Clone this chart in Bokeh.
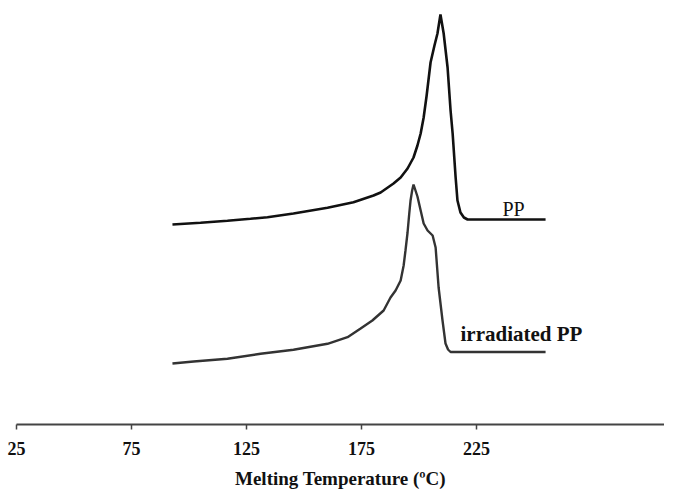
from bokeh.plotting import figure
from bokeh.models import FixedTicker, Range1d
from bokeh.core.properties import value
from bokeh.embed import file_html
from bokeh.resources import INLINE

# ---- data ----
tick_values = [25, 75, 125, 175, 225]

pp_temp = [92.8, 105.0, 116.7, 126.7, 134.1, 145.4, 160.2, 171.5, 180.2, 183.3,
           188.9, 192.0, 195.0, 197.6, 199.3, 200.7, 202.0, 203.3, 205.0, 206.7,
           208.0, 209.3, 210.7, 212.4, 213.7, 214.6, 215.9, 216.7, 218.0, 219.5,
           221.1, 255.0]
pp_heat = [200, 201.7, 203.7, 205.7, 207.3, 211, 216.7, 222.3, 229, 232,
           241, 247, 256, 267, 279, 291, 307, 329, 362, 379,
           391, 410, 391, 357, 314, 291, 247, 224, 212, 207,
           205, 205]

irr_temp = [92.8, 102.0, 116.7, 131.1, 145.4, 160.2, 168.9, 174.6, 179.7, 184.6,
            187.6, 189.8, 192.0, 193.3, 194.1, 195.0, 195.7, 196.3, 197.0, 197.6,
            199.3, 200.7, 202.0, 203.7, 205.9, 207.2, 208.5, 210.2, 211.5, 212.6,
            213.7, 218.0, 255.0]
irr_heat = [61, 63, 65.7, 70.7, 74.7, 80.7, 87.3, 96, 104, 114,
            127, 134, 144, 159, 174, 192, 210, 224, 234, 240,
            228, 214, 201, 194, 189, 177, 137, 104, 81, 75,
            72.5, 72.5, 72.5]

labels = ["PP", "irradiated PP"]
label_x = [241.1, 244.5]
label_y = [216, 91]

serif = "Liberation Serif"

p = figure(width=664, height=492, output_backend="svg", toolbar_location=None,
           x_range=Range1d(25, 306.7), y_range=Range1d(0, 412),
           y_axis_location=None,
           min_border_left=16, min_border_right=0, min_border_top=12,
           min_border_bottom=68)
p.outline_line_color = None
p.xgrid.visible = False
p.ygrid.visible = False
p.background_fill_color = "white"

p.line(pp_temp, pp_heat, line_color="#111111", line_width=2.6)
p.line(irr_temp, irr_heat, line_color="#333333", line_width=2.4)

p.text(x=[label_x[0]], y=[label_y[0]], text=[labels[0]],
       text_font=value(serif), text_font_size="20px", text_color="#111111",
       text_align="center", text_baseline="alphabetic")
p.text(x=[label_x[1]], y=[label_y[1]], text=[labels[1]],
       text_font=value(serif), text_font_size="21px", text_font_style="bold",
       text_color="#111111", text_align="center", text_baseline="alphabetic")

ax = p.xaxis[0]
ax.ticker = FixedTicker(ticks=tick_values)
ax.axis_label = "Melting Temperature (ºC)"
ax.axis_label_text_font = serif
ax.axis_label_text_font_size = "19px"
ax.axis_label_text_font_style = "bold"
ax.axis_label_text_color = "#111111"
ax.axis_label_standoff = 10
ax.major_label_text_font = serif
ax.major_label_text_font_size = "18px"
ax.major_label_text_font_style = "bold"
ax.major_label_text_color = "#111111"
ax.major_label_standoff = 12
ax.axis_line_color = "#444444"
ax.axis_line_width = 2
ax.major_tick_line_color = "#444444"
ax.major_tick_line_width = 1.5
ax.major_tick_out = 5
ax.major_tick_in = 0
ax.minor_tick_line_color = None

open("out.html", "w").write(file_html(p, INLINE))
